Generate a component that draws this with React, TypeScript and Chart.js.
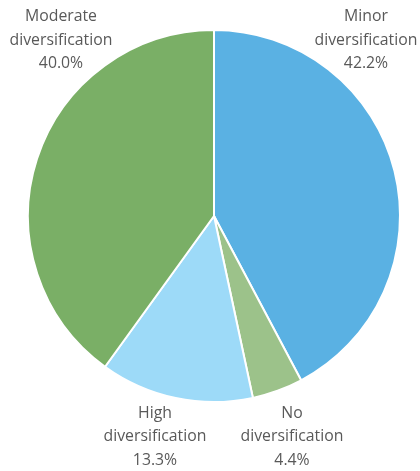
import React, { useEffect, useRef } from "react";
import { Chart, registerables } from "chart.js";

Chart.register(...registerables);

const categories = ["Minor diversification", "No diversification", "High diversification", "Moderate diversification"];
const values = [42.2, 4.4, 13.3, 40.0];
const colors = ["#5AB1E3", "#9CC28A", "#9DDAF8", "#7AAF66"];
const labelLines = [
  ["Minor", "diversification", "42.2%"],
  ["No", "diversification", "4.4%"],
  ["High", "diversification", "13.3%"],
  ["Moderate", "diversification", "40.0%"],
];
// label anchor offsets relative to pie centre (x, y of first line)
const labelOffsets = [
  [152, -199.5],
  [78, 197],
  [-59, 197],
  [-153, -199.5],
];

const labelPlugin = {
  id: "outerLabels",
  afterDraw(chart: any) {
    const ctx = chart.ctx;
    const meta = chart.getDatasetMeta(0);
    const arc = meta.data[0];
    const cx = arc.x;
    const cy = arc.y;
    ctx.save();
    ctx.font = '15.8px "Open Sans", "Noto Sans", sans-serif';
    ctx.fillStyle = "#595959";
    ctx.textAlign = "center";
    ctx.textBaseline = "middle";
    labelLines.forEach((lines, i) => {
      const [dx, dy] = labelOffsets[i];
      lines.forEach((t, j) => {
        ctx.fillText(t, cx + dx, cy + dy + j * 23.5);
      });
    });
    ctx.restore();
  },
};

export default function App() {
  const ref = useRef<HTMLCanvasElement>(null);
  useEffect(() => {
    document.body.style.margin = "0";
    const chart = new Chart(ref.current!, {
      type: "pie",
      data: {
        labels: categories,
        datasets: [
          {
            data: values,
            backgroundColor: colors,
            borderColor: "#ffffff",
            borderWidth: 2,
          },
        ],
      },
      options: {
        responsive: false,
        animation: false,
        layout: { padding: { left: 27, top: 29, right: 19, bottom: 68 } },
        plugins: {
          legend: { display: false },
          tooltip: { enabled: false },
        },
      },
      plugins: [labelPlugin],
    });
    return () => chart.destroy();
  }, []);
  return (
    <div style={{ width: 420, height: 471 }}>
      <canvas ref={ref} width={420} height={471} />
    </div>
  );
}
